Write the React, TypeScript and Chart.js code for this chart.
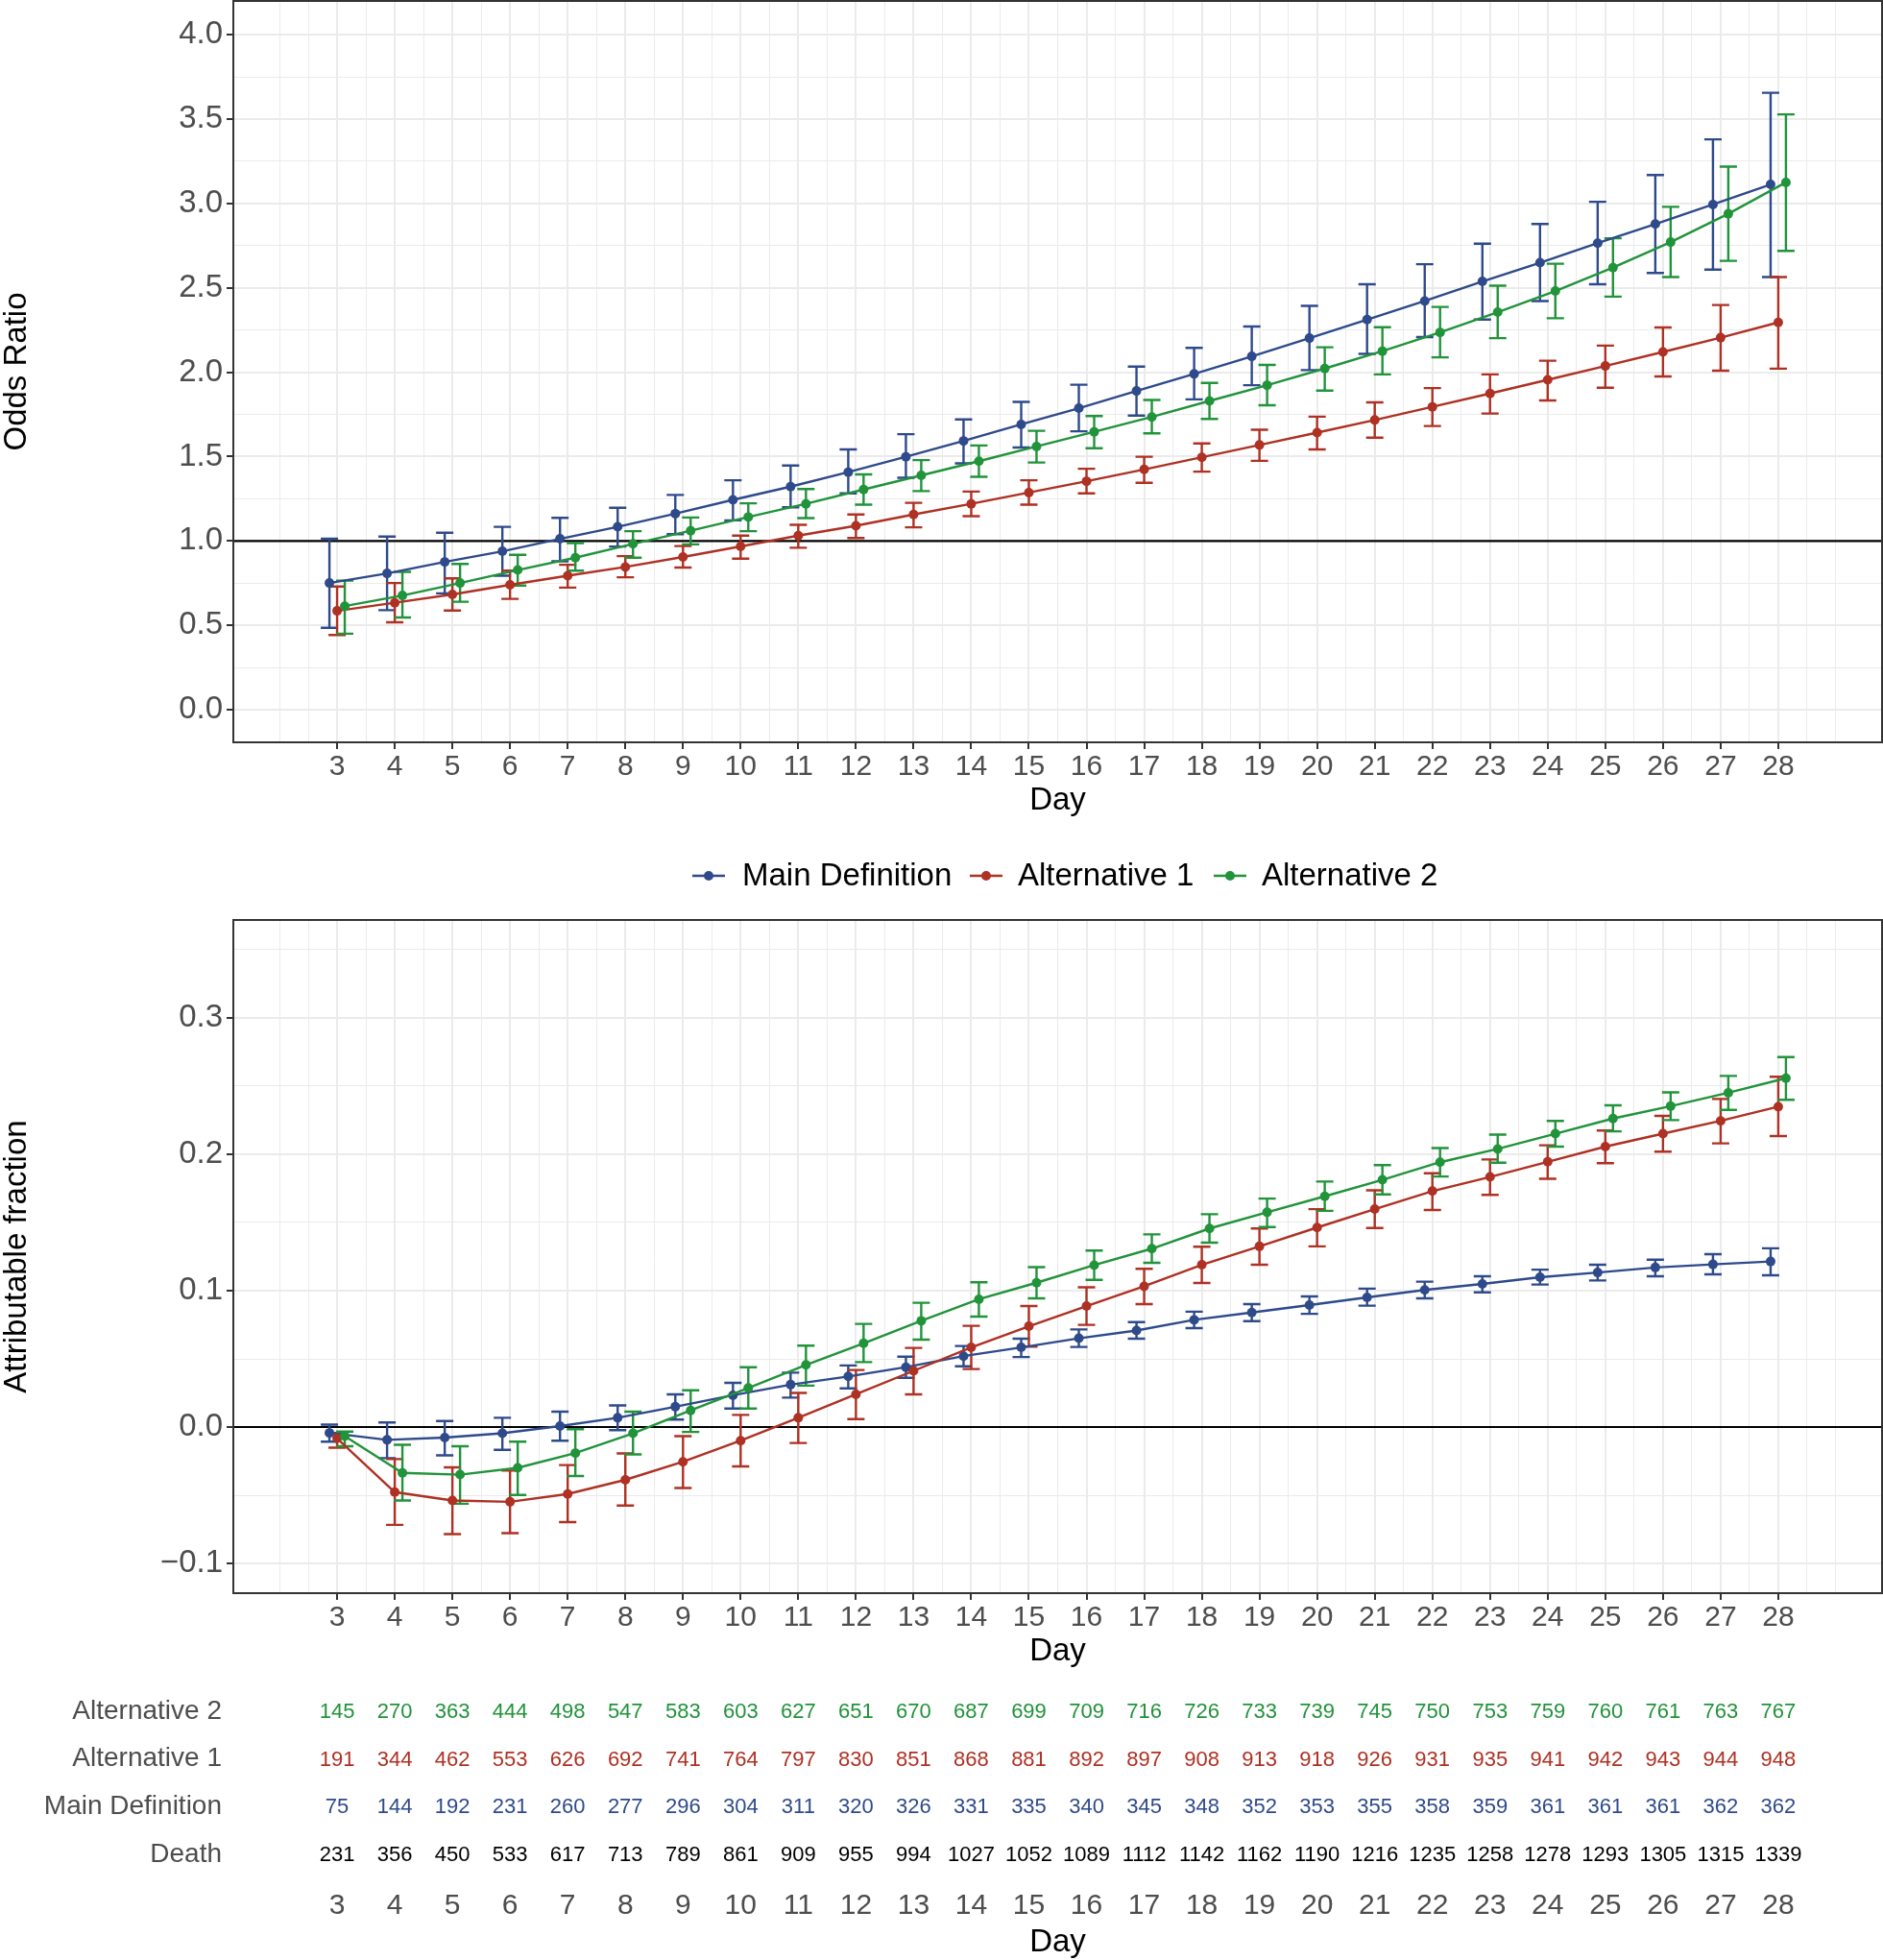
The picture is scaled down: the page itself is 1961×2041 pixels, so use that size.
import React, { useEffect, useRef } from "react";
import { Chart, registerables } from "chart.js";

Chart.register(...registerables);

// ---------------- data ----------------
const DAYS = [3, 4, 5, 6, 7, 8, 9, 10, 11, 12, 13, 14, 15, 16, 17, 18, 19, 20, 21, 22, 23, 24, 25, 26, 27, 28];
const X_TICK_LABELS = DAYS.map(String);

const SERIES_NAMES = ["Main Definition", "Alternative 1", "Alternative 2"];

// Odds ratio panel
const OR_MAIN = [0.751, 0.808, 0.876, 0.939, 1.013, 1.084, 1.162, 1.244, 1.322, 1.408, 1.499, 1.593, 1.691, 1.787, 1.889, 1.99, 2.094, 2.202, 2.312, 2.422, 2.538, 2.649, 2.765, 2.878, 2.994, 3.113];
const OR_MAIN_LO = [0.486, 0.59, 0.69, 0.794, 0.88, 0.967, 1.04, 1.122, 1.2, 1.282, 1.375, 1.46, 1.554, 1.65, 1.743, 1.839, 1.923, 2.013, 2.109, 2.208, 2.312, 2.422, 2.521, 2.588, 2.608, 2.564];
const OR_MAIN_HI = [1.013, 1.026, 1.049, 1.084, 1.137, 1.197, 1.273, 1.36, 1.447, 1.543, 1.633, 1.72, 1.824, 1.926, 2.033, 2.144, 2.271, 2.393, 2.521, 2.64, 2.762, 2.878, 3.01, 3.169, 3.38, 3.656];

const OR_ALT1 = [0.586, 0.634, 0.683, 0.74, 0.794, 0.846, 0.905, 0.968, 1.032, 1.09, 1.157, 1.22, 1.287, 1.354, 1.424, 1.496, 1.569, 1.642, 1.717, 1.795, 1.874, 1.955, 2.037, 2.12, 2.205, 2.295];
const OR_ALT1_LO = [0.443, 0.518, 0.588, 0.657, 0.724, 0.785, 0.843, 0.895, 0.96, 1.018, 1.081, 1.147, 1.215, 1.282, 1.345, 1.411, 1.475, 1.543, 1.612, 1.681, 1.755, 1.833, 1.908, 1.975, 2.009, 2.021];
const OR_ALT1_HI = [0.73, 0.751, 0.779, 0.824, 0.859, 0.91, 0.97, 1.032, 1.096, 1.157, 1.226, 1.293, 1.36, 1.428, 1.499, 1.578, 1.659, 1.737, 1.821, 1.906, 1.987, 2.068, 2.158, 2.265, 2.398, 2.564];

const OR_ALT2 = [0.614, 0.677, 0.751, 0.828, 0.901, 0.983, 1.061, 1.142, 1.22, 1.305, 1.389, 1.473, 1.56, 1.647, 1.735, 1.83, 1.923, 2.022, 2.125, 2.236, 2.356, 2.481, 2.62, 2.771, 2.939, 3.125];
const OR_ALT2_LO = [0.451, 0.547, 0.64, 0.736, 0.824, 0.901, 0.98, 1.058, 1.136, 1.215, 1.296, 1.38, 1.465, 1.55, 1.638, 1.723, 1.804, 1.891, 1.987, 2.088, 2.202, 2.32, 2.448, 2.564, 2.66, 2.719];
const OR_ALT2_HI = [0.765, 0.817, 0.864, 0.918, 0.988, 1.058, 1.139, 1.223, 1.308, 1.395, 1.479, 1.566, 1.653, 1.74, 1.836, 1.937, 2.043, 2.148, 2.267, 2.387, 2.513, 2.643, 2.794, 2.98, 3.218, 3.528];

// Attributable fraction panel
const AF_MAIN = [-0.0043, -0.0094, -0.0077, -0.0046, 0.0007, 0.0068, 0.0149, 0.0233, 0.0311, 0.0371, 0.0439, 0.052, 0.0584, 0.0651, 0.0708, 0.0786, 0.084, 0.0894, 0.0951, 0.1005, 0.1049, 0.1099, 0.1133, 0.117, 0.1193, 0.1214];
const AF_MAIN_LO = [-0.0107, -0.0228, -0.0208, -0.0167, -0.01, -0.0023, 0.0055, 0.0136, 0.0216, 0.0284, 0.0361, 0.0446, 0.0513, 0.0587, 0.0648, 0.0725, 0.0776, 0.083, 0.089, 0.0944, 0.0988, 0.1045, 0.1075, 0.1106, 0.112, 0.1113];
const AF_MAIN_HI = [0.0018, 0.0034, 0.0044, 0.0068, 0.0113, 0.0159, 0.024, 0.0324, 0.0399, 0.0452, 0.0516, 0.0594, 0.0648, 0.0716, 0.0769, 0.0846, 0.0901, 0.0958, 0.1015, 0.1066, 0.1106, 0.1154, 0.119, 0.1227, 0.1268, 0.1311];

const AF_ALT1 = [-0.0083, -0.0477, -0.0538, -0.0548, -0.0491, -0.0387, -0.0255, -0.01, 0.0068, 0.024, 0.0412, 0.0584, 0.0739, 0.0887, 0.1032, 0.119, 0.1325, 0.1463, 0.1598, 0.173, 0.1834, 0.1945, 0.2056, 0.2151, 0.2245, 0.2349];
const AF_ALT1_LO = [-0.0151, -0.0717, -0.0785, -0.0778, -0.0697, -0.0575, -0.0447, -0.0289, -0.0117, 0.0058, 0.024, 0.0425, 0.059, 0.0749, 0.0901, 0.1056, 0.119, 0.1325, 0.146, 0.1592, 0.1702, 0.182, 0.1935, 0.2019, 0.208, 0.2134];
const AF_ALT1_HI = [-0.0043, -0.0235, -0.0296, -0.0319, -0.0279, -0.0194, -0.0067, 0.0089, 0.025, 0.0418, 0.058, 0.0742, 0.0887, 0.1025, 0.116, 0.1322, 0.1456, 0.1598, 0.1736, 0.1861, 0.1962, 0.2066, 0.2174, 0.2282, 0.2406, 0.2568];

const AF_ALT2 = [-0.0067, -0.0336, -0.0349, -0.0299, -0.0191, -0.0046, 0.0122, 0.0287, 0.0456, 0.0614, 0.0779, 0.0937, 0.1058, 0.1187, 0.1308, 0.1456, 0.1575, 0.1692, 0.1813, 0.1942, 0.2039, 0.2151, 0.2262, 0.2353, 0.2451, 0.2558];
const AF_ALT2_LO = [-0.0141, -0.0538, -0.0562, -0.0498, -0.0359, -0.0201, -0.0036, 0.0136, 0.0304, 0.0476, 0.0641, 0.081, 0.0944, 0.1079, 0.1204, 0.1352, 0.1467, 0.1585, 0.1706, 0.1837, 0.1938, 0.2056, 0.2168, 0.2251, 0.2326, 0.24];
const AF_ALT2_HI = [-0.0033, -0.013, -0.0141, -0.0107, -0.0016, 0.0113, 0.027, 0.0439, 0.0597, 0.0756, 0.0911, 0.1062, 0.1173, 0.1294, 0.1413, 0.1561, 0.1675, 0.18, 0.1921, 0.2046, 0.2144, 0.2245, 0.2359, 0.2454, 0.2575, 0.2713];

// Risk table
const TABLE_ROWS = ["Alternative 2", "Alternative 1", "Main Definition", "Death"];
const N_ALT2 = [145, 270, 363, 444, 498, 547, 583, 603, 627, 651, 670, 687, 699, 709, 716, 726, 733, 739, 745, 750, 753, 759, 760, 761, 763, 767];
const N_ALT1 = [191, 344, 462, 553, 626, 692, 741, 764, 797, 830, 851, 868, 881, 892, 897, 908, 913, 918, 926, 931, 935, 941, 942, 943, 944, 948];
const N_MAIN = [75, 144, 192, 231, 260, 277, 296, 304, 311, 320, 326, 331, 335, 340, 345, 348, 352, 353, 355, 358, 359, 361, 361, 361, 362, 362];
const N_DEATH = [231, 356, 450, 533, 617, 713, 789, 861, 909, 955, 994, 1027, 1052, 1089, 1112, 1142, 1162, 1190, 1216, 1235, 1258, 1278, 1293, 1305, 1315, 1339];

// y tick labels
const OR_TICKS = [0, 0.5, 1, 1.5, 2, 2.5, 3, 3.5, 4];
const OR_TICK_LABELS = ["0.0", "0.5", "1.0", "1.5", "2.0", "2.5", "3.0", "3.5", "4.0"];
const AF_TICKS = [-0.1, 0, 0.1, 0.2, 0.3];
const AF_TICK_LABELS = ["\u22120.1", "0.0", "0.1", "0.2", "0.3"];

// ---------------- style ----------------
const FONT = "'Liberation Sans', Arial, Helvetica, sans-serif";
const COLORS = ["#2E4A8B", "#AE3123", "#21933A"];
const TABLE_COLORS = ["#21933A", "#AE3123", "#2E4A8B", "#000000"];
const TICK_TEXT = "#4D4D4D";
const GRID = "#EBEBEB";
const PANEL = "#333333";
const DODGE = [-0.133, 0, 0.133];
const CAP_HALF = 0.15;
const X_MIN = 1.2;
const X_MAX = 29.8;
const W = 1961;
const LINE_W = 2.4;
const POINT_R = 5;

const near = (a: number, b: number) => Math.abs(a - b) < 1e-6;
const isIn = (v: number, arr: number[]) => arr.some((a) => near(a, v));

// minor grid positions (midpoints plus one step beyond the major breaks)
const X_GRID: number[] = [];
for (let k = 4; k <= 58; k++) X_GRID.push(k / 2);
const OR_GRID: number[] = [];
for (let k = 0; k <= 16; k++) OR_GRID.push(k / 4);
const AF_GRID: number[] = [];
for (let k = -2; k <= 7; k++) AF_GRID.push(k / 20);

function xScaleOpts(height: number, titlePadBottom: number, showGrid: boolean, tickPad: number) {
  return {
    type: "linear",
    min: X_MIN,
    max: X_MAX,
    afterBuildTicks: (s: any) => {
      s.ticks = (showGrid ? X_GRID : DAYS).map((v) => ({ value: v }));
    },
    afterFit: (s: any) => {
      s.height = height;
      s.paddingLeft = 0;
      s.paddingRight = 0;
    },
    ticks: {
      autoSkip: false,
      maxRotation: 0,
      minRotation: 0,
      padding: tickPad,
      color: TICK_TEXT,
      font: { family: FONT, size: 30, lineHeight: 1 },
      callback: (v: number) => {
        const i = DAYS.findIndex((d) => near(d, v));
        return i >= 0 ? X_TICK_LABELS[i] : "";
      },
    },
    grid: showGrid
      ? {
          color: GRID,
          lineWidth: (c: any) => (c.tick && isIn(c.tick.value, DAYS) ? 2 : 1),
          drawTicks: true,
          tickLength: 7,
          tickWidth: 2,
          tickColor: (c: any) => (c.tick && isIn(c.tick.value, DAYS) ? PANEL : "rgba(0,0,0,0)"),
        }
      : { display: false, drawTicks: false },
    border: { display: false },
    title: {
      display: true,
      text: "Day",
      color: "#000000",
      font: { family: FONT, size: 33, lineHeight: 1.1 },
      padding: { top: 0, bottom: titlePadBottom },
    },
  };
}

type PanelSpec = {
  est: number[][];
  lo: number[][];
  hi: number[][];
  yMin: number;
  yMax: number;
  yGrid: number[];
  yTicks: number[];
  yTickLabels: string[];
  yTitle: string;
  refY: number;
  padTop: number;
  padBottom: number;
  legendY?: number;
};

function panelConfig(p: PanelSpec): any {
  const panelPlugin = {
    id: "panelExtras",
    beforeDatasetsDraw(chart: any) {
      const { ctx, chartArea: a, scales } = chart;
      const x = scales.x;
      const y = scales.y;
      ctx.save();
      ctx.beginPath();
      ctx.rect(a.left, a.top, a.right - a.left, a.bottom - a.top);
      ctx.clip();
      // reference line
      const yr = y.getPixelForValue(p.refY);
      ctx.strokeStyle = "#000000";
      ctx.lineWidth = 2.2;
      ctx.beginPath();
      ctx.moveTo(a.left, yr);
      ctx.lineTo(a.right, yr);
      ctx.stroke();
      // error bars
      ctx.lineWidth = LINE_W;
      ctx.lineCap = "butt";
      for (let s = 0; s < 3; s++) {
        ctx.strokeStyle = COLORS[s];
        for (let i = 0; i < DAYS.length; i++) {
          const xv = DAYS[i] + DODGE[s];
          const xc = x.getPixelForValue(xv);
          const x0 = x.getPixelForValue(xv - CAP_HALF);
          const x1 = x.getPixelForValue(xv + CAP_HALF);
          const yl = y.getPixelForValue(p.lo[s][i]);
          const yh = y.getPixelForValue(p.hi[s][i]);
          ctx.beginPath();
          ctx.moveTo(xc, yl);
          ctx.lineTo(xc, yh);
          ctx.moveTo(x0, yl);
          ctx.lineTo(x1, yl);
          ctx.moveTo(x0, yh);
          ctx.lineTo(x1, yh);
          ctx.stroke();
        }
      }
      ctx.restore();
    },
    afterDraw(chart: any) {
      const { ctx, chartArea: a } = chart;
      ctx.save();
      ctx.strokeStyle = PANEL;
      ctx.lineWidth = 2;
      ctx.strokeRect(a.left, a.top, a.right - a.left, a.bottom - a.top);
      if (p.legendY !== undefined) {
        const keyX = [738, 1027, 1281];
        const textX = [773, 1060, 1314];
        ctx.font = `33px ${FONT}`;
        ctx.textBaseline = "middle";
        ctx.textAlign = "left";
        for (let s = 0; s < 3; s++) {
          ctx.strokeStyle = COLORS[s];
          ctx.lineWidth = LINE_W;
          ctx.beginPath();
          ctx.moveTo(keyX[s] - 17, p.legendY);
          ctx.lineTo(keyX[s] + 17, p.legendY);
          ctx.stroke();
          ctx.fillStyle = COLORS[s];
          ctx.beginPath();
          ctx.arc(keyX[s], p.legendY, POINT_R, 0, Math.PI * 2);
          ctx.fill();
          ctx.fillStyle = "#000000";
          ctx.fillText(SERIES_NAMES[s], textX[s], p.legendY + 1);
        }
      }
      ctx.restore();
    },
  };

  return {
    type: "line",
    data: {
      datasets: SERIES_NAMES.map((name, s) => ({
        label: name,
        data: DAYS.map((d, i) => ({ x: d + DODGE[s], y: p.est[s][i] })),
        borderColor: COLORS[s],
        backgroundColor: COLORS[s],
        pointBackgroundColor: COLORS[s],
        pointBorderWidth: 0,
        pointRadius: POINT_R,
        borderWidth: LINE_W,
        tension: 0,
        order: 3 - s,
      })),
    },
    options: {
      animation: false,
      responsive: false,
      maintainAspectRatio: false,
      events: [],
      layout: { autoPadding: false, padding: { left: 0, right: 1, top: p.padTop, bottom: p.padBottom } },
      plugins: { legend: { display: false }, tooltip: { enabled: false }, title: { display: false } },
      scales: {
        x: xScaleOpts(80, 0.5, true, 3.5),
        y: {
          type: "linear",
          min: p.yMin,
          max: p.yMax,
          afterBuildTicks: (s: any) => {
            s.ticks = p.yGrid.map((v) => ({ value: v }));
          },
          afterFit: (s: any) => {
            s.width = 243;
            s.paddingTop = 0;
            s.paddingBottom = 0;
          },
          ticks: {
            autoSkip: false,
            padding: 4,
            color: TICK_TEXT,
            font: { family: FONT, size: 33, lineHeight: 1 },
            callback: (v: number) => {
              const i = p.yTicks.findIndex((t) => near(t, v));
              return i >= 0 ? p.yTickLabels[i] : "";
            },
          },
          grid: {
            color: GRID,
            lineWidth: (c: any) => (c.tick && isIn(c.tick.value, p.yTicks) ? 2 : 1),
            drawTicks: true,
            tickLength: 7,
            tickWidth: 2,
            tickColor: (c: any) => (c.tick && isIn(c.tick.value, p.yTicks) ? PANEL : "rgba(0,0,0,0)"),
          },
          border: { display: false },
          title: {
            display: true,
            text: p.yTitle,
            color: "#000000",
            font: { family: FONT, size: 33, lineHeight: 1.1 },
            padding: { top: 0, bottom: 0 },
          },
        },
      },
    },
    plugins: [panelPlugin],
  };
}

function tableConfig(): any {
  const counts = [N_ALT2, N_ALT1, N_MAIN, N_DEATH];
  const tablePlugin = {
    id: "tableNumbers",
    afterDraw(chart: any) {
      const { ctx, scales } = chart;
      ctx.save();
      ctx.font = `22px ${FONT}`;
      ctx.textAlign = "center";
      ctx.textBaseline = "middle";
      for (let r = 0; r < counts.length; r++) {
        ctx.fillStyle = TABLE_COLORS[r];
        const yp = scales.y.getPixelForValue(r);
        for (let i = 0; i < DAYS.length; i++) {
          ctx.fillText(String(counts[r][i]), scales.x.getPixelForValue(DAYS[i]), yp + 1);
        }
      }
      ctx.restore();
    },
  };
  return {
    type: "line",
    data: { labels: TABLE_ROWS, datasets: [{ label: "n", data: [] }] },
    options: {
      animation: false,
      responsive: false,
      maintainAspectRatio: false,
      events: [],
      layout: { autoPadding: false, padding: { left: 0, right: 1, top: 7, bottom: 0 } },
      plugins: { legend: { display: false }, tooltip: { enabled: false } },
      scales: {
        x: xScaleOpts(85, 0, false, 14),
        y: {
          type: "category",
          labels: TABLE_ROWS,
          offset: true,
          afterFit: (s: any) => {
            s.width = 243;
            s.paddingTop = 0;
            s.paddingBottom = 0;
          },
          grid: { display: false, drawTicks: false },
          border: { display: false },
          ticks: {
            padding: 12,
            color: TICK_TEXT,
            font: { family: FONT, size: 28, lineHeight: 1 },
          },
        },
      },
    },
    plugins: [tablePlugin],
  };
}

function ChartCanvas({ top, height, config }: { top: number; height: number; config: () => any }) {
  const ref = useRef<HTMLCanvasElement | null>(null);
  useEffect(() => {
    if (!ref.current) return;
    const chart = new Chart(ref.current, config());
    return () => chart.destroy();
  }, []);
  return (
    <canvas
      ref={ref}
      width={W}
      height={height}
      style={{ position: "absolute", left: 0, top, width: W, height, display: "block" }}
    />
  );
}

export default function App() {
  const orSpec: PanelSpec = {
    est: [OR_MAIN, OR_ALT1, OR_ALT2],
    lo: [OR_MAIN_LO, OR_ALT1_LO, OR_ALT2_LO],
    hi: [OR_MAIN_HI, OR_ALT1_HI, OR_ALT2_HI],
    yMin: -0.193,
    yMax: 4.2,
    yGrid: OR_GRID,
    yTicks: OR_TICKS,
    yTickLabels: OR_TICK_LABELS,
    yTitle: "Odds Ratio",
    refY: 1,
    padTop: 1,
    padBottom: 17,
  };
  const afSpec: PanelSpec = {
    est: [AF_MAIN, AF_ALT1, AF_ALT2],
    lo: [AF_MAIN_LO, AF_ALT1_LO, AF_ALT2_LO],
    hi: [AF_MAIN_HI, AF_ALT1_HI, AF_ALT2_HI],
    yMin: -0.1218,
    yMax: 0.3718,
    yGrid: AF_GRID,
    yTicks: AF_TICKS,
    yTickLabels: AF_TICK_LABELS,
    yTitle: "Attributable fraction",
    refY: 0,
    padTop: 88,
    padBottom: 11,
    legendY: 42,
  };
  return (
    <div style={{ position: "absolute", left: 0, top: 0, width: W, height: 2041, background: "#ffffff", overflow: "hidden" }}>
      <ChartCanvas top={0} height={870} config={() => panelConfig(orSpec)} />
      <ChartCanvas top={870} height={880} config={() => panelConfig(afSpec)} />
      <ChartCanvas top={1750} height={291} config={tableConfig} />
    </div>
  );
}
